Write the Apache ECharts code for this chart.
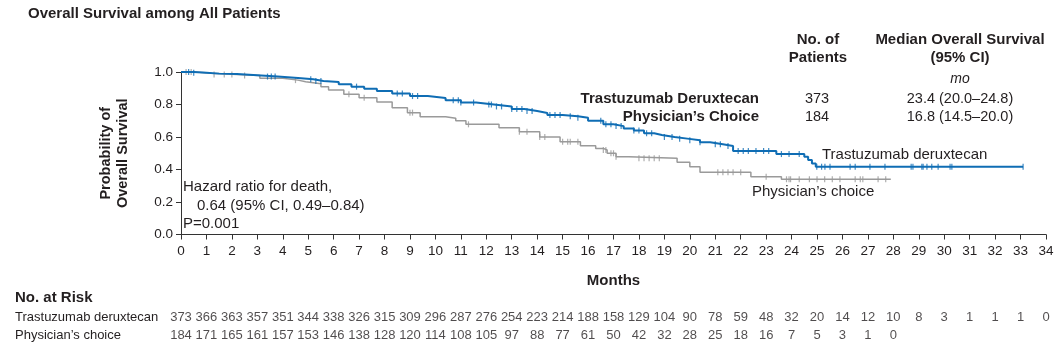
<!DOCTYPE html>
<html><head><meta charset="utf-8">
<script src="https://cdn.jsdelivr.net/npm/echarts@6/dist/echarts.min.js"></script>
<style>html,body{margin:0;padding:0;background:#fff}#c{width:1059px;height:345px}</style>
</head><body><div id="c"></div>
<script>
// ---- data ----
const monthTicks = [0,1,2,3,4,5,6,7,8,9,10,11,12,13,14,15,16,17,18,19,20,21,22,23,24,25,26,27,28,29,30,31,32,33,34];
const tdxdTimes = [0,0.5,1.0,1.5,2.2,3.0,3.8,4.6,5.2,5.6,6.2,6.7,7.2,7.7,8.3,9.0,9.7,10.4,11.0,11.6,12.3,13.0,13.5,14.0,14.4,15.0,15.6,16.0,16.6,17.0,17.4,17.8,18.2,18.6,18.9,19.4,19.9,20.4,20.8,21.3,21.7,23.4,24.5,24.65,24.8,24.95,33.1];
const tdxdSurv  = [1.0,0.995,0.99,0.987,0.98,0.972,0.963,0.955,0.945,0.938,0.925,0.91,0.897,0.883,0.868,0.852,0.84,0.826,0.812,0.80,0.788,0.772,0.76,0.748,0.735,0.728,0.718,0.70,0.678,0.667,0.653,0.64,0.623,0.612,0.60,0.59,0.58,0.567,0.555,0.545,0.514,0.495,0.478,0.458,0.437,0.417,0.417];
const pcTimes = [0,0.6,1.2,2.2,3.1,4.0,4.6,4.9,5.5,5.8,6.4,7.0,7.7,8.3,8.9,9.4,10.4,10.8,11.2,12.5,13.3,14.1,14.9,15.7,16.3,16.6,16.75,17.1,17.6,19.5,20.0,20.4,22.4,23.6,27.9];
const pcSurv  = [1.0,0.993,0.985,0.978,0.962,0.95,0.94,0.928,0.91,0.89,0.863,0.842,0.815,0.78,0.75,0.725,0.715,0.70,0.678,0.657,0.633,0.60,0.571,0.546,0.53,0.52,0.50,0.479,0.469,0.444,0.417,0.383,0.356,0.34,0.34];
const tdxdCensor = [0.3,0.5,3.4,3.55,3.7,5.1,5.3,5.5,6.9,8.5,8.7,9.1,9.3,10.7,10.9,11.0,11.5,12.1,12.2,12.4,12.6,13.0,13.2,13.4,13.6,13.8,14.5,14.7,14.9,15.3,15.6,16.5,16.7,16.9,17.1,17.3,17.8,18.0,18.3,18.5,19.0,19.3,19.6,20.0,20.4,21.0,21.2,21.5,21.9,22.1,22.3,22.6,22.9,23.1,23.6,23.9,24.3,24.99,25.18,25.31,25.51,26.3,26.5,27.08,27.67,28.7,28.77,29.12,29.17,29.32,29.51,29.76,30.23,30.3,33.1];
const pcCensor = [0.2,0.4,1.3,1.7,2.0,2.5,4.5,6.6,7.2,9.0,9.1,11.3,13.3,13.6,14.1,14.3,15.0,15.2,15.3,15.6,16.6,16.7,16.9,17.0,17.1,18.0,18.2,18.4,18.6,18.8,21.1,21.3,21.5,21.7,22.0,23.0,23.8,23.9,23.96,24.3,24.7,25.0,25.3,25.6,25.9,26.5,26.7,26.8,27.4,27.7];
const tdxdRisk = [373,366,363,357,351,344,338,326,315,309,296,287,276,254,223,214,188,158,129,104,90,78,59,48,32,20,14,12,10,8,3,1,1,1,0];
const pcRisk   = [184,171,165,161,157,153,146,138,128,120,114,108,105,97,88,77,61,50,42,32,28,25,18,16,7,5,3,1,0];
const yTicks = [0,0.2,0.4,0.6,0.8,1.0];

// ---- build ----
const BLUE = '#0f6db4', GRAY = '#9a9a9a', TXT = '#231f20';
const FONT = 'Liberation Sans';
function zip(a,b){return a.map((v,i)=>[v,b[i]]);}
function survAt(ts,ss,t){let s=ss[0];for(let i=0;i<ts.length;i++){if(ts[i]<=t)s=ss[i];}return s;}
const chart = echarts.init(document.getElementById('c'), null, {renderer:'canvas'});
const riskData1 = tdxdRisk.map((v,i)=>[monthTicks[i],1,v]);
const riskData2 = pcRisk.map((v,i)=>[monthTicks[i],0,v]);
const riskLabel = {show:true,position:'inside',formatter:p=>String(p.value[2]),color:TXT,fontFamily:FONT,fontSize:13};
const B15 = 'bold 15px "Liberation Sans"', R14 = '14.5px "Liberation Sans"', R15 = '15px "Liberation Sans"';
chart.setOption({
  animation:false,
  grid:[
    {left:181,right:13,top:72,height:162.5,containLabel:false},
    {left:181,right:13,top:308,height:36,containLabel:false}
  ],
  xAxis:[
    {gridIndex:0,type:'value',min:0,max:34,interval:1,
     axisLine:{show:true,lineStyle:{color:'#333',width:1}},
     axisTick:{show:true,length:5,lineStyle:{color:'#333'}},
     axisLabel:{color:TXT,fontFamily:FONT,fontSize:13.5,margin:10},
     splitLine:{show:false},
     name:'Months',nameLocation:'middle',nameGap:39,
     nameTextStyle:{color:TXT,fontFamily:FONT,fontSize:15,fontWeight:'bold'}},
    {gridIndex:1,type:'value',min:0,max:34,show:false}
  ],
  yAxis:[
    {gridIndex:0,type:'value',min:0,max:1,interval:0.2,
     axisLine:{show:true,lineStyle:{color:'#333',width:1}},
     axisTick:{show:true,length:5,lineStyle:{color:'#333'}},
     axisLabel:{color:TXT,fontFamily:FONT,fontSize:13.5,margin:8,formatter:v=>v.toFixed(1)},
     splitLine:{show:false},
     name:'Probability of\nOverall Survival',nameLocation:'middle',nameGap:50,nameRotate:90,
     nameTextStyle:{color:TXT,fontFamily:FONT,fontSize:14.5,fontWeight:'bold',lineHeight:17}},
    {gridIndex:1,type:'value',min:-0.5,max:1.5,show:false}
  ],
  series:[
    {type:'line',xAxisIndex:0,yAxisIndex:0,step:'end',showSymbol:false,data:zip(pcTimes,pcSurv),
     lineStyle:{color:GRAY,width:1.5},z:2},
    {type:'line',xAxisIndex:0,yAxisIndex:0,step:'end',showSymbol:false,data:zip(tdxdTimes,tdxdSurv),
     lineStyle:{color:BLUE,width:2},z:3},
    {type:'scatter',xAxisIndex:0,yAxisIndex:0,symbol:'rect',symbolSize:[1.2,6],
     itemStyle:{color:GRAY},data:pcCensor.map(t=>[t,survAt(pcTimes,pcSurv,t)]),z:2},
    {type:'scatter',xAxisIndex:0,yAxisIndex:0,symbol:'rect',symbolSize:[1.2,6],
     itemStyle:{color:BLUE},data:tdxdCensor.map(t=>[t,survAt(tdxdTimes,tdxdSurv,t)]),z:3},
    {type:'scatter',xAxisIndex:1,yAxisIndex:1,symbolSize:0,data:riskData1,label:riskLabel},
    {type:'scatter',xAxisIndex:1,yAxisIndex:1,symbolSize:0,data:riskData2,label:riskLabel}
  ],
  graphic:[
    {type:'text',x:28,y:14,style:{text:'Overall Survival among All Patients',fill:TXT,font:B15,verticalAlign:'middle'}},
    // legend table
    {type:'text',x:818,y:40,style:{text:'No. of',fill:TXT,font:B15,align:'center',verticalAlign:'middle'}},
    {type:'text',x:818,y:58,style:{text:'Patients',fill:TXT,font:B15,align:'center',verticalAlign:'middle'}},
    {type:'text',x:960,y:40,style:{text:'Median Overall Survival',fill:TXT,font:B15,align:'center',verticalAlign:'middle'}},
    {type:'text',x:960,y:58,style:{text:'(95% CI)',fill:TXT,font:B15,align:'center',verticalAlign:'middle'}},
    {type:'text',x:960,y:79,style:{text:'mo',fill:TXT,font:'italic 14px "Liberation Sans"',align:'center',verticalAlign:'middle'}},
    {type:'text',x:759,y:99,style:{text:'Trastuzumab Deruxtecan',fill:TXT,font:B15,align:'right',verticalAlign:'middle'}},
    {type:'text',x:759,y:117,style:{text:'Physician’s Choice',fill:TXT,font:B15,align:'right',verticalAlign:'middle'}},
    {type:'text',x:817,y:99,style:{text:'373',fill:TXT,font:R14,align:'center',verticalAlign:'middle'}},
    {type:'text',x:817,y:117,style:{text:'184',fill:TXT,font:R14,align:'center',verticalAlign:'middle'}},
    {type:'text',x:960,y:99,style:{text:'23.4 (20.0–24.8)',fill:TXT,font:R14,align:'center',verticalAlign:'middle'}},
    {type:'text',x:960,y:117,style:{text:'16.8 (14.5–20.0)',fill:TXT,font:R14,align:'center',verticalAlign:'middle'}},
    // curve labels
    {type:'text',x:822,y:155,style:{text:'Trastuzumab deruxtecan',fill:TXT,font:R15,verticalAlign:'middle'}},
    {type:'text',x:752,y:192,style:{text:'Physician’s choice',fill:TXT,font:R15,verticalAlign:'middle'}},
    // hazard
    {type:'text',x:183,y:187,style:{text:'Hazard ratio for death,',fill:TXT,font:R15,verticalAlign:'middle'}},
    {type:'text',x:197,y:206,style:{text:'0.64 (95% CI, 0.49–0.84)',fill:TXT,font:R15,verticalAlign:'middle'}},
    {type:'text',x:183,y:224,style:{text:'P=0.001',fill:TXT,font:R15,verticalAlign:'middle'}},
    // risk table labels
    {type:'text',x:15,y:298,style:{text:'No. at Risk',fill:TXT,font:B15,verticalAlign:'middle'}},
    {type:'text',x:15,y:317,style:{text:'Trastuzumab deruxtecan',fill:TXT,font:'13px "Liberation Sans"',verticalAlign:'middle'}},
    {type:'text',x:15,y:335,style:{text:'Physician’s choice',fill:TXT,font:'13px "Liberation Sans"',verticalAlign:'middle'}}
  ]
});
</script></body></html>
